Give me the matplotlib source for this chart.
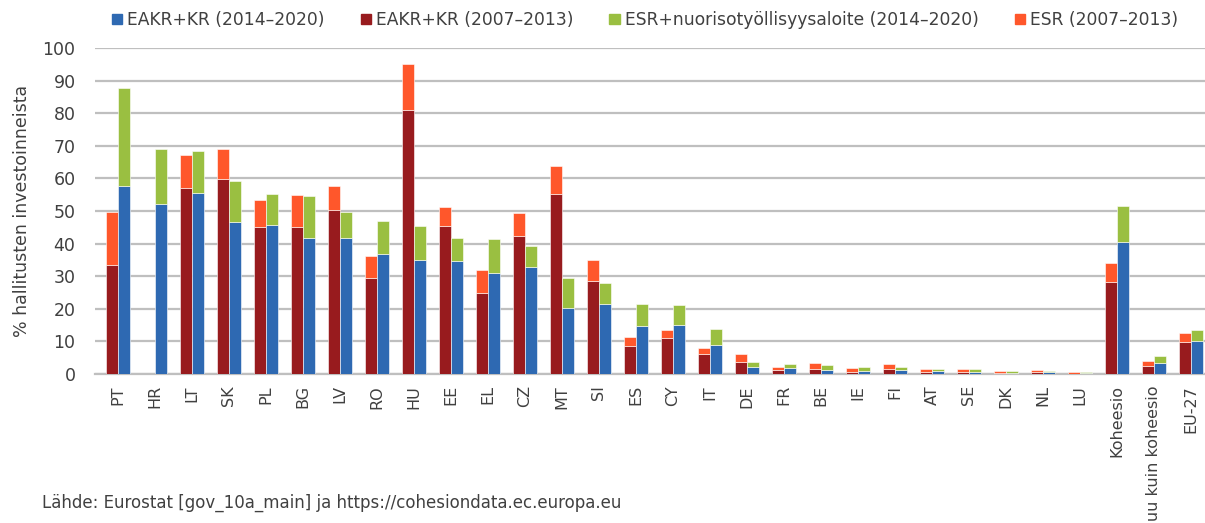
import numpy as np
import matplotlib
matplotlib.use("Agg")
import matplotlib.pyplot as plt
from matplotlib.patches import Patch

plt.rcParams['font.family'] = ['DejaVu Sans']

countries = ['PT', 'HR', 'LT', 'SK', 'PL', 'BG', 'LV', 'RO', 'HU', 'EE', 'EL', 'CZ',
             'MT', 'SI', 'ES', 'CY', 'IT', 'DE', 'FR', 'BE', 'IE', 'FI', 'AT', 'SE',
             'DK', 'NL', 'LU', 'Koheesio', 'Muu kuin koheesio', 'EU-27']

# 2007-2013 period (left bar)
eakr_0713 = [33.5, 0.0, 57.2, 59.8, 45.1, 45.0, 50.3, 29.4, 81.0, 45.4, 24.8, 42.3,
             55.2, 28.6, 8.6, 10.9, 6.0, 3.8, 1.2, 1.5, 0.7, 1.6, 0.6, 0.6,
             0.3, 0.5, 0.1, 28.1, 2.6, 9.8]
esr_0713 = [16.1, 0.0, 10.1, 9.1, 8.2, 9.9, 7.5, 6.7, 14.0, 5.9, 7.0, 7.2,
            8.5, 6.4, 2.8, 2.7, 2.1, 2.4, 1.0, 1.9, 1.0, 1.4, 0.9, 0.8,
            0.5, 0.6, 0.4, 6.1, 1.3, 2.9]

# 2014-2020 period (right bar)
eakr_1420 = [57.6, 52.3, 55.5, 46.5, 45.6, 41.7, 41.7, 36.8, 34.9, 34.8, 30.9, 32.7,
             20.3, 21.4, 14.7, 15.0, 9.0, 2.1, 1.7, 1.1, 1.0, 1.1, 0.9, 0.6,
             0.4, 0.5, 0.2, 40.5, 3.4, 10.0]
esr_1420 = [30.2, 16.6, 12.8, 12.8, 9.7, 12.8, 8.0, 10.0, 10.6, 6.8, 10.6, 6.5,
            9.0, 6.5, 6.8, 6.3, 4.9, 1.7, 1.3, 1.6, 1.2, 0.9, 0.5, 0.8,
            0.5, 0.3, 0.4, 11.0, 2.1, 3.6]

c_blue = '#2E69B2'
c_red = '#981B1E'
c_green = '#9ABF41'
c_orange = '#FF572B'
txt = '#404040'

fig = plt.figure(figsize=(12.05, 5.23), dpi=100)
ax = fig.add_axes([95 / 1205, 1 - 374 / 523, 1 - 95 / 1205, (374 - 48) / 523])

x = np.arange(len(countries))
w = 0.33
ax.bar(x - w / 2, eakr_0713, w, color=c_red, edgecolor='white', linewidth=0.4, zorder=3)
ax.bar(x - w / 2, esr_0713, w, bottom=eakr_0713, color=c_orange, edgecolor='white', linewidth=0.4, zorder=3)
ax.bar(x + w / 2, eakr_1420, w, color=c_blue, edgecolor='white', linewidth=0.4, zorder=3)
ax.bar(x + w / 2, esr_1420, w, bottom=eakr_1420, color=c_green, edgecolor='white', linewidth=0.4, zorder=3)

ax.set_xlim(-0.62, 29.38)
ax.set_ylim(0, 100)
ax.set_yticks(np.arange(0, 101, 10))
ax.yaxis.grid(True, color='#BFBFBF', linewidth=1.6, zorder=0)
ax.set_axisbelow(True)
for s in ['top', 'right', 'left']:
    ax.spines[s].set_visible(False)
ax.spines['bottom'].set_color('#BFBFBF')
ax.spines['bottom'].set_linewidth(1.6)
ax.tick_params(axis='y', length=0, pad=14, labelsize=12.5, labelcolor=txt)
ax.tick_params(axis='x', length=0, pad=8, labelsize=11.5, labelcolor=txt)
ax.set_xticks(x)
ax.set_xticklabels(countries, rotation=90, va='top')
ax.set_ylabel('% hallitusten investoinneista', fontsize=12.5, color=txt)
ax.yaxis.set_label_coords(-0.058, 0.5)

handles = [Patch(color=c_blue), Patch(color=c_red), Patch(color=c_green), Patch(color=c_orange)]
labels = ['EAKR+KR (2014–2020)', 'EAKR+KR (2007–2013)',
          'ESR+nuorisotyöllisyysaloite (2014–2020)', 'ESR (2007–2013)']
fig.legend(handles, labels, loc='center', bbox_to_anchor=(645 / 1205, 1 - 20 / 523), ncol=4,
           frameon=False, fontsize=12.3, handlelength=0.6, handleheight=0.6,
           handletextpad=0.3, columnspacing=2.1, labelcolor=txt)

fig.text(42 / 1205, 1 - 503 / 523, 'Lähde: Eurostat [gov_10a_main] ja https://cohesiondata.ec.europa.eu',
         fontsize=12, color=txt, va='center', ha='left')

fig.savefig('out.png', dpi=100)
